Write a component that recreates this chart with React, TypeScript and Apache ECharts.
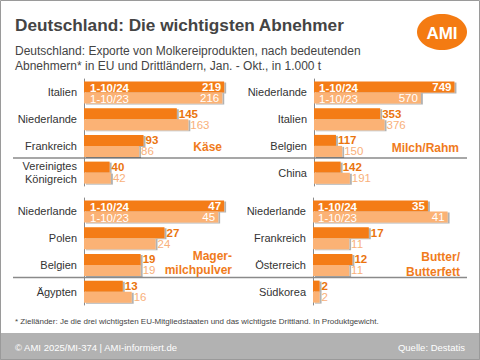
import React, { useEffect, useRef } from "react";
import * as echarts from "echarts";

const kaeseCats = ["Italien", "Niederlande", "Frankreich", "Vereinigtes\nKönigreich"];
const kaese24 = [219, 145, 93, 40];
const kaese23 = [216, 163, 86, 42];

const milchCats = ["Niederlande", "Italien", "Belgien", "China"];
const milch24 = [749, 353, 117, 142];
const milch23 = [570, 376, 150, 191];

const mmpCats = ["Niederlande", "Polen", "Belgien", "Ägypten"];
const mmp24 = [47, 27, 19, 13];
const mmp23 = [45, 24, 19, 16];

const butterCats = ["Niederlande", "Frankreich", "Österreich", "Südkorea"];
const butter24 = [35, 17, 12, 2];
const butter23 = [41, 11, 11, 2];

const period24 = "1-10/24";
const period23 = "1-10/23";

const DARK = "#F47B12";
const LIGHT = "#FBB274";
const DARK_TXT = "#EA740E";
const LIGHT_TXT = "#F9B07A";
const FONT = "Liberation Sans, Arial, sans-serif";

export default function App() {
  const ref = useRef<HTMLDivElement>(null);
  useEffect(() => {
    if (!ref.current) return;
    const chart = echarts.init(ref.current, null, { renderer: "svg" });

    const grids = [
      { left: 84, top: 79, width: 160, height: 107, max: 250, cats: kaeseCats },
      { left: 314, top: 79, width: 150, height: 107, max: 800, cats: milchCats },
      { left: 84, top: 198, width: 155, height: 107, max: 52, cats: mmpCats },
      { left: 313, top: 198, width: 151, height: 107, max: 46, cats: butterCats },
    ];
    const data = [
      [kaese24, kaese23],
      [milch24, milch23],
      [mmp24, mmp23],
      [butter24, butter23],
    ];

    const series: any[] = [];
    data.forEach(([d24, d23], gi) => {
      const mk = (vals: number[], dark: boolean) => ({
        type: "bar",
        xAxisIndex: gi,
        yAxisIndex: gi,
        barWidth: 11,
        barGap: "0%",
        itemStyle: {
          color: dark ? DARK : LIGHT,
          shadowColor: "rgba(0,0,0,0.3)",
          shadowBlur: 1,
          shadowOffsetX: 2,
          shadowOffsetY: 1,
        },
        label: {
          show: true,
          position: "right",
          distance: 2,
          fontFamily: FONT,
          fontSize: 11.5,
          fontWeight: dark ? "bold" : "normal",
          color: dark ? DARK_TXT : LIGHT_TXT,
        },
        data: vals.map((v, i) =>
          i === 0
            ? { value: v, label: { position: "insideRight", distance: 3, color: "#fff" } }
            : v
        ),
      });
      series.push(mk(d24, true), mk(d23, false));
    });

    const legendTexts: any[] = [];
    [
      { x: 90, y: 87.5 },
      { x: 319, y: 87.5 },
      { x: 90, y: 206.5 },
      { x: 318, y: 206.5 },
    ].forEach((p) => {
      legendTexts.push(
        {
          type: "text",
          x: p.x,
          y: p.y,
          z: 100,
          style: { text: period24, fill: "#fff", font: `bold 11.5px ${FONT}`, verticalAlign: "middle" },
        },
        {
          type: "text",
          x: p.x,
          y: p.y + 11,
          z: 100,
          style: { text: period23, fill: "#fff", font: `11.5px ${FONT}`, verticalAlign: "middle" },
        }
      );
    });

    const sectionFont = `bold 12px ${FONT}`;
    const SEC = "#F07B1C";

    chart.setOption({
      animation: false,
      backgroundColor: "#fff",
      grid: grids.map((g) => ({ left: g.left, top: g.top, width: g.width, height: g.height })),
      xAxis: grids.map((g, i) => ({
        type: "value",
        gridIndex: i,
        min: 0,
        max: g.max,
        show: false,
      })),
      yAxis: grids.map((g, i) => ({
        type: "category",
        gridIndex: i,
        inverse: true,
        data: g.cats,
        axisLine: { show: true, lineStyle: { color: "#8a8a8a", width: 1 } },
        axisTick: { show: false },
        axisLabel: {
          margin: 7,
          fontFamily: FONT,
          fontSize: 11,
          color: "#333",
          lineHeight: 13,
          align: "right",
        },
      })),
      series,
      graphic: [
        {
          type: "rect",
          shape: { x: 0.5, y: 0.5, width: 479, height: 359 },
          style: { fill: "none", stroke: "#9a9a9a", lineWidth: 1 },
          z: 200,
        },
        {
          type: "text",
          x: 15,
          y: 25,
          style: {
            text: "Deutschland: Die wichtigsten Abnehmer",
            font: `bold 17.2px ${FONT}`,
            fill: "#444",
            verticalAlign: "middle",
          },
        },
        {
          type: "text",
          x: 15,
          y: 51,
          style: {
            text: "Deutschland: Exporte von Molkereiprodukten, nach bedeutenden",
            font: `12px ${FONT}`,
            fill: "#444",
            verticalAlign: "middle",
          },
        },
        {
          type: "text",
          x: 15,
          y: 66,
          style: {
            text: "Abnehmern* in EU und Drittländern, Jan. - Okt., in 1.000 t",
            font: `12px ${FONT}`,
            fill: "#444",
            verticalAlign: "middle",
          },
        },
        {
          type: "ellipse",
          shape: { cx: 442, cy: 32, rx: 25, ry: 18 },
          style: { fill: "#F47B12" },
        },
        {
          type: "text",
          x: 442,
          y: 33,
          style: {
            text: "AMI",
            font: `bold 17px ${FONT}`,
            fill: "#fff",
            align: "center",
            verticalAlign: "middle",
          },
        },
        {
          type: "line",
          shape: { x1: 13, y1: 158, x2: 467, y2: 158 },
          style: { stroke: "#8a8a8a", lineWidth: 1.5 },
        },
        {
          type: "line",
          shape: { x1: 13, y1: 277.5, x2: 467, y2: 277.5 },
          style: { stroke: "#8a8a8a", lineWidth: 1.5 },
        },
        {
          type: "text",
          x: 222,
          y: 147,
          style: { text: "Käse", font: sectionFont, fill: SEC, align: "right", verticalAlign: "middle" },
        },
        {
          type: "text",
          x: 459,
          y: 148,
          style: { text: "Milch/Rahm", font: sectionFont, fill: SEC, align: "right", verticalAlign: "middle" },
        },
        {
          type: "text",
          x: 232,
          y: 263,
          style: {
            text: "Mager-\nmilchpulver",
            font: sectionFont,
            lineHeight: 14.5,
            fill: SEC,
            align: "right",
            verticalAlign: "middle",
          },
        },
        {
          type: "text",
          x: 460,
          y: 264,
          style: {
            text: "Butter/\nButterfett",
            font: sectionFont,
            lineHeight: 15,
            fill: SEC,
            align: "right",
            verticalAlign: "middle",
          },
        },
        ...legendTexts,
        {
          type: "text",
          x: 15,
          y: 321,
          style: {
            text:
              "* Zielländer: Je die drei wichtigsten EU-Mitgliedstaaten und das wichtigste Drittland. In Produktgewicht.",
            font: `8px ${FONT}`,
            fill: "#444",
            verticalAlign: "middle",
          },
        },
        {
          type: "rect",
          shape: { x: 0, y: 333, width: 480, height: 27 },
          style: { fill: "#b2b2b2" },
        },
        {
          type: "text",
          x: 15,
          y: 347,
          style: {
            text: "© AMI 2025/MI-374 | AMI-informiert.de",
            font: `9.5px ${FONT}`,
            fill: "#fff",
            verticalAlign: "middle",
          },
        },
        {
          type: "text",
          x: 465,
          y: 347,
          style: {
            text: "Quelle: Destatis",
            font: `9.5px ${FONT}`,
            fill: "#fff",
            align: "right",
            verticalAlign: "middle",
          },
        },
      ],
    });
    return () => chart.dispose();
  }, []);
  return (
    <div
      ref={ref}
      style={{ position: "absolute", left: 0, top: 0, width: 480, height: 360 }}
    />
  );
}
